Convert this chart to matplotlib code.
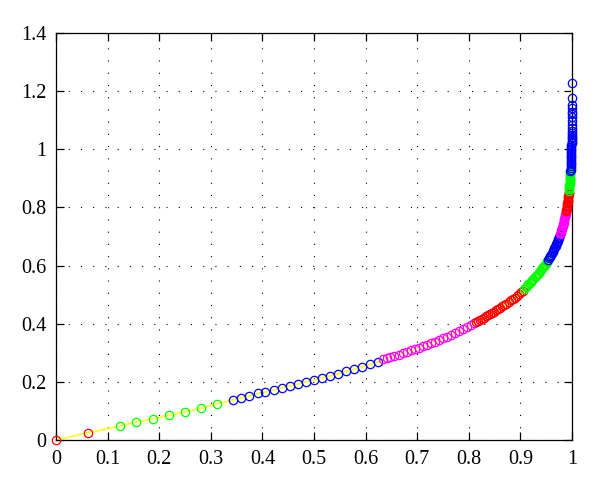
import matplotlib.pyplot as plt
import numpy as np

plt.rcParams['font.family'] = ['Liberation Serif', 'DejaVu Serif']

# segment data
red1_x = [0.0, 0.0625]
red1_y = [0.0, 0.025]

green1_x = [0.125, 0.156, 0.188, 0.219, 0.25, 0.281, 0.313]
green1_y = [0.048, 0.062, 0.073, 0.085, 0.097, 0.109, 0.125]

blue1_x = [0.344, 0.359, 0.375, 0.391, 0.406, 0.422, 0.438, 0.453, 0.469, 0.484,
           0.5, 0.516, 0.531, 0.547, 0.563, 0.578, 0.594, 0.609, 0.625]
blue1_y = [0.138, 0.145, 0.152, 0.160, 0.166, 0.172, 0.180, 0.186, 0.192, 0.200,
           0.206, 0.214, 0.220, 0.228, 0.237, 0.243, 0.252, 0.260, 0.268]

mag1_x = [0.633, 0.641, 0.648, 0.656, 0.664, 0.672, 0.680, 0.688, 0.695, 0.703,
          0.711, 0.719, 0.727, 0.734, 0.742, 0.750, 0.758, 0.766, 0.773, 0.781,
          0.789, 0.797, 0.805, 0.810]
mag1_y = [0.278, 0.282, 0.286, 0.290, 0.294, 0.299, 0.303, 0.308, 0.313, 0.318,
          0.323, 0.328, 0.333, 0.338, 0.344, 0.350, 0.356, 0.362, 0.368, 0.375,
          0.382, 0.389, 0.396, 0.401]

red2_x = [0.814, 0.817, 0.821, 0.825, 0.829, 0.833, 0.837, 0.841, 0.845,
          0.849, 0.853, 0.857, 0.861, 0.865, 0.869, 0.873, 0.877, 0.881, 0.885,
          0.889, 0.893, 0.897, 0.901, 0.905]
red2_y = [0.406, 0.410, 0.413, 0.417, 0.421, 0.425, 0.429, 0.433, 0.437,
          0.442, 0.446, 0.451, 0.455, 0.460, 0.465, 0.469, 0.474, 0.480, 0.485,
          0.490, 0.496, 0.502, 0.508, 0.514]

green2_x = [0.9076, 0.9103, 0.9130, 0.9155, 0.9181, 0.9205, 0.9229, 0.9252, 0.9275,
            0.9297, 0.9319, 0.9340, 0.9361, 0.9381, 0.9400, 0.9419, 0.9438, 0.9456,
            0.9473, 0.9490, 0.9507, 0.9523]
green2_y = [0.520, 0.525, 0.530, 0.535, 0.540, 0.545, 0.549, 0.554, 0.559, 0.563,
            0.568, 0.572, 0.576, 0.581, 0.585, 0.590, 0.594, 0.598, 0.603, 0.607,
            0.612, 0.616]

blue2_x = [0.9538, 0.9553, 0.9568, 0.9583, 0.9597, 0.9611, 0.9624, 0.9637, 0.9649,
           0.9661, 0.9673, 0.9684, 0.9695, 0.9706, 0.9716, 0.9726, 0.9736, 0.9745,
           0.9754, 0.9763]
blue2_y = [0.620, 0.625, 0.629, 0.634, 0.638, 0.642, 0.647, 0.651, 0.656, 0.660,
           0.664, 0.669, 0.673, 0.678, 0.682, 0.686, 0.691, 0.695, 0.700, 0.704]

mag2_x = [0.9772, 0.9780, 0.9788, 0.9796, 0.9804, 0.9811, 0.9818, 0.9825, 0.9831,
          0.9838, 0.9844, 0.9850, 0.9855, 0.9861, 0.9867, 0.9872, 0.9877, 0.9882]
mag2_y = [0.708, 0.713, 0.717, 0.722, 0.726, 0.730, 0.735, 0.739, 0.744, 0.748,
          0.752, 0.757, 0.761, 0.766, 0.770, 0.774, 0.779, 0.783]

red3_x = [0.9886, 0.9891, 0.9895, 0.9899, 0.9903, 0.9907, 0.9911, 0.9915, 0.9918,
          0.9922, 0.9925, 0.9928, 0.9931, 0.9934, 0.9937, 0.9939]
red3_y = [0.788, 0.792, 0.796, 0.801, 0.805, 0.810, 0.814, 0.818, 0.823, 0.827,
          0.832, 0.836, 0.840, 0.845, 0.849, 0.854]

green3_x = [0.9942, 0.9944, 0.9947, 0.9949, 0.9951, 0.9953, 0.9955, 0.9957, 0.9959,
            0.9961, 0.9963, 0.9964, 0.9966, 0.9967, 0.9969]
green3_y = [0.858, 0.862, 0.867, 0.871, 0.876, 0.880, 0.884, 0.889, 0.893, 0.898,
            0.902, 0.906, 0.911, 0.915, 0.920]

blue3_x = [0.9970, 0.9972, 0.9974, 0.9976, 0.9977, 0.9979, 0.9980, 0.9982, 0.9983,
           0.9984, 0.9985, 0.9986, 0.9987, 0.9988, 0.9989, 0.9990, 0.9991, 0.9992,
           0.9992, 0.9993, 0.9993, 0.9994, 0.9994, 0.9995, 0.9995, 0.9996, 0.9997,
           0.9997, 0.9997, 0.9998, 0.9998, 0.9998, 0.9998, 0.9999]
blue3_y = [0.924, 0.930, 0.936, 0.942, 0.948, 0.954, 0.960, 0.966, 0.972, 0.978,
           0.984, 0.990, 0.996, 1.002, 1.008, 1.014, 1.020, 1.026, 1.032, 1.038,
           1.044, 1.050, 1.056, 1.062, 1.072, 1.084, 1.097, 1.110, 1.120, 1.130,
           1.141, 1.152, 1.176, 1.227]

segments = [
    (red1_x, red1_y, 'red'),
    (green1_x, green1_y, 'lime'),
    (blue1_x, blue1_y, 'blue'),
    (mag1_x, mag1_y, 'magenta'),
    (red2_x, red2_y, 'red'),
    (green2_x, green2_y, 'lime'),
    (blue2_x, blue2_y, 'blue'),
    (mag2_x, mag2_y, 'magenta'),
    (red3_x, red3_y, 'red'),
    (green3_x, green3_y, 'lime'),
    (blue3_x, blue3_y, 'blue'),
]

xticks = [0, 0.1, 0.2, 0.3, 0.4, 0.5, 0.6, 0.7, 0.8, 0.9, 1]
xlabels = ['0', '0.1', '0.2', '0.3', '0.4', '0.5', '0.6', '0.7', '0.8', '0.9', '1']
yticks = [0, 0.2, 0.4, 0.6, 0.8, 1.0, 1.2, 1.4]
ylabels = ['0', '0.2', '0.4', '0.6', '0.8', '1', '1.2', '1.4']

fig = plt.figure(figsize=(6, 4.92), dpi=100)
ax = fig.add_axes([0.0933, 0.1057, 0.86, 0.8272])

# yellow line through all the points
all_x = np.concatenate([s[0] for s in segments])
all_y = np.concatenate([s[1] for s in segments])
ax.plot(all_x, all_y, color='#ffff33', linewidth=1.4, zorder=2, clip_on=False)

for sx, sy, c in segments:
    ax.plot(sx, sy, 'o', mfc='none', mec=c, markersize=6, mew=0.9,
            zorder=3, clip_on=False)

ax.set_xlim(0, 1)
ax.set_ylim(0, 1.4)
ax.set_xticks(xticks)
ax.set_xticklabels(xlabels)
ax.set_yticks(yticks)
ax.set_yticklabels(ylabels)

ax.grid(True, color='black', linestyle=(0, (1, 10)), linewidth=0.8)
ax.tick_params(direction='in', top=True, right=True, length=6, width=0.9,
               labelsize=14.5, pad=7)
for sp in ax.spines.values():
    sp.set_linewidth(0.9)

plt.savefig('out.png', dpi=100)
